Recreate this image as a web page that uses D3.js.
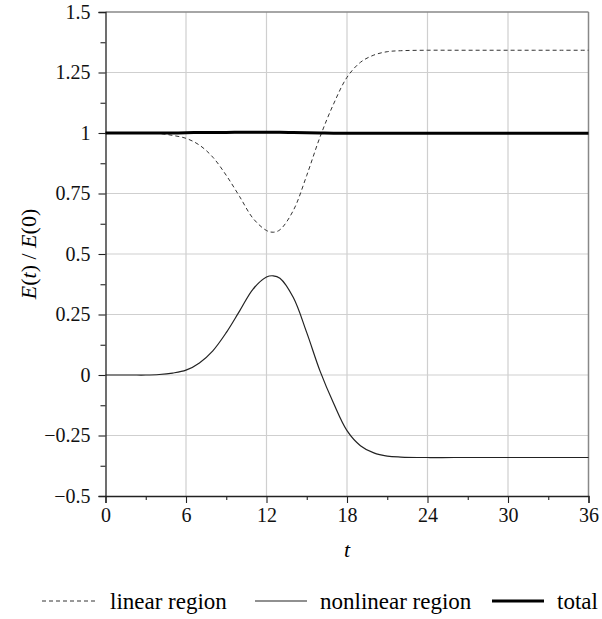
<!DOCTYPE html>
<html>
<head>
<meta charset="utf-8">
<script src="https://cdn.jsdelivr.net/npm/d3@7"></script>
<style>
  body { margin: 0; background: #fff; }
</style>
</head>
<body>
<div id="chart"></div>
<script>
var width = 602;
var height = 619;
var serif = "'Liberation Serif'";

// time samples
var times = [0, 1, 2, 3, 4, 5, 6, 7, 8, 9, 10, 11, 12, 12.5, 13, 14, 15, 16, 17, 18, 19, 20, 21, 22, 24, 26, 28, 30, 32, 34, 36];

var linearVals = [1, 1, 1, 1, 0.998, 0.99, 0.978, 0.95, 0.9, 0.825, 0.737, 0.647, 0.597, 0.59, 0.6, 0.68, 0.825, 0.985, 1.12, 1.23, 1.292, 1.322, 1.336, 1.34, 1.342, 1.342, 1.342, 1.342, 1.342, 1.342, 1.342];

var nonlinearVals = [0, 0, 0, 0, 0.002, 0.008, 0.02, 0.05, 0.1, 0.175, 0.265, 0.355, 0.405, 0.41, 0.4, 0.32, 0.175, 0.015, -0.117, -0.23, -0.292, -0.322, -0.335, -0.339, -0.341, -0.341, -0.341, -0.341, -0.341, -0.341, -0.341];

var totalVals = [1, 1, 1, 1, 1, 1, 1.001, 1.002, 1.002, 1.002, 1.003, 1.003, 1.003, 1.003, 1.003, 1.002, 1.001, 1, 0.999, 0.999, 0.999, 0.999, 0.999, 0.999, 0.999, 0.999, 0.999, 0.999, 0.999, 0.999, 0.999];

var xTicks = [0, 6, 12, 18, 24, 30, 36];
var yTicks = [-0.5, -0.25, 0, 0.25, 0.5, 0.75, 1, 1.25, 1.5];
var yTickLabels = ["\u22120.5", "\u22120.25", "0", "0.25", "0.5", "0.75", "1", "1.25", "1.5"];

var legendItems = [
    { label: "linear region", dash: "4,3", w: 1, color: "#333" },
    { label: "nonlinear region", dash: null, w: 1.2, color: "#222" },
    { label: "total", dash: null, w: 3, color: "#000" }
];

var plotL = 105.5, plotR = 588.5, plotT = 12, plotB = 496;

var xScale = d3.scaleLinear().domain([0, 36]).range([plotL, plotR]);
var yScale = d3.scaleLinear().domain([-0.5, 1.5]).range([plotB, plotT]);

var svg = d3.select("#chart").append("svg")
    .attr("width", width)
    .attr("height", height)
    .attr("font-family", serif);

// grid
svg.append("g").selectAll("line")
    .data(xTicks.slice(1, -1))
    .enter().append("line")
    .attr("x1", function(d) { return xScale(d); })
    .attr("x2", function(d) { return xScale(d); })
    .attr("y1", plotT).attr("y2", plotB)
    .style("stroke", "#cfcfcf").style("stroke-width", 1.2);

svg.append("g").selectAll("line")
    .data(yTicks.slice(1, -1))
    .enter().append("line")
    .attr("y1", function(d) { return yScale(d); })
    .attr("y2", function(d) { return yScale(d); })
    .attr("x1", plotL).attr("x2", plotR)
    .style("stroke", "#cfcfcf").style("stroke-width", 1.2);

// top and right frame
svg.append("line").attr("x1", plotL).attr("x2", plotR).attr("y1", plotT).attr("y2", plotT)
    .style("stroke", "#888").style("stroke-width", 1.5);
svg.append("line").attr("x1", plotR).attr("x2", plotR).attr("y1", plotT).attr("y2", plotB)
    .style("stroke", "#888").style("stroke-width", 1.5);

// axes
svg.append("g")
    .attr("transform", "translate(0," + plotB + ")")
    .call(d3.axisBottom(xScale).tickValues(xTicks).tickSize(7).tickPadding(5).tickFormat(d3.format("d")));
svg.append("g")
    .attr("transform", "translate(0," + plotB + ")")
    .call(d3.axisBottom(xScale).tickValues(d3.range(3, 36, 6)).tickSize(4).tickFormat(""))
    .call(function(g) { g.select(".domain").remove(); });

svg.append("g")
    .attr("transform", "translate(" + plotL + ",0)")
    .call(d3.axisLeft(yScale).tickValues(yTicks).tickSize(7).tickPadding(8)
        .tickFormat(function(d, i) { return yTickLabels[i]; }));
svg.append("g")
    .attr("transform", "translate(" + plotL + ",0)")
    .call(d3.axisLeft(yScale).tickValues(d3.range(-0.375, 1.5, 0.25)).tickSize(5).tickFormat(""))
    .call(function(g) { g.select(".domain").remove(); });

svg.selectAll("g").attr("font-family", serif);
svg.selectAll(".domain").style("stroke", "#222").style("stroke-width", 1.3);
svg.selectAll(".tick line").style("stroke", "#222").style("stroke-width", 1.1);
svg.selectAll(".tick text")
    .attr("font-family", serif)
    .style("font-size", "20px")
    .style("fill", "#111");

// axis titles
svg.append("text")
    .attr("x", (plotL + plotR) / 2)
    .attr("y", 557)
    .attr("text-anchor", "middle")
    .attr("font-family", serif)
    .style("font-size", "22px")
    .style("font-style", "italic")
    .text("t");

var yTitle = svg.append("text")
    .attr("transform", "translate(36," + yScale(0.5) + ") rotate(-90)")
    .attr("text-anchor", "middle")
    .attr("font-family", serif)
    .style("font-size", "22px");
yTitle.append("tspan").style("font-style", "italic").text("E");
yTitle.append("tspan").text("(");
yTitle.append("tspan").style("font-style", "italic").text("t");
yTitle.append("tspan").text(") / ");
yTitle.append("tspan").style("font-style", "italic").text("E");
yTitle.append("tspan").text("(0)");

// curves
function series(vals) {
    return times.map(function(t, i) { return [t, vals[i]]; });
}

var line = d3.line()
    .x(function(d) { return xScale(d[0]); })
    .y(function(d) { return yScale(d[1]); })
    .curve(d3.curveCatmullRom.alpha(0.5));

svg.append("path")
    .attr("d", line(series(nonlinearVals)))
    .style("fill", "none")
    .style("stroke", "#222")
    .style("stroke-width", 1.2);

svg.append("path")
    .attr("d", line(series(linearVals)))
    .style("fill", "none")
    .style("stroke", "#333")
    .style("stroke-width", 1)
    .style("stroke-dasharray", "4,3");

svg.append("path")
    .attr("d", line(series(totalVals)))
    .style("fill", "none")
    .style("stroke", "#000")
    .style("stroke-width", 3);

// legend
var legendX = [42, 255, 492];
legendItems.forEach(function(item, i) {
    var g = svg.append("g").attr("transform", "translate(" + legendX[i] + ",601)");
    g.append("line")
        .attr("x1", 0).attr("x2", i == 0 ? 56 : 52)
        .attr("y1", 0).attr("y2", 0)
        .style("stroke", item.color)
        .style("stroke-width", item.w)
        .style("stroke-dasharray", item.dash);
    g.append("text")
        .attr("x", i == 0 ? 68 : 65)
        .attr("y", 7.5)
        .attr("font-family", serif)
        .style("font-size", "23px")
        .text(item.label);
});
</script>
</body>
</html>
